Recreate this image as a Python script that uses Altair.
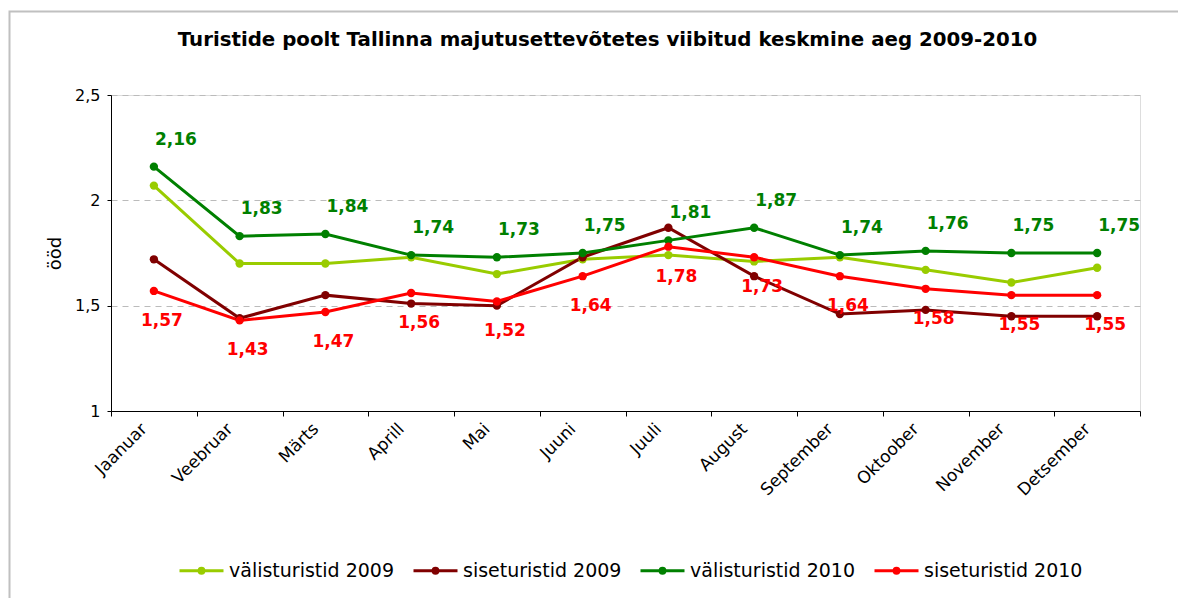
import altair as alt
import pandas as pd

months = ["Jaanuar", "Veebruar", "Märts", "Aprill", "Mai", "Juuni",
          "Juuli", "August", "September", "Oktoober", "November", "Detsember"]
series_names = ["välisturistid 2009", "siseturistid 2009",
                "välisturistid 2010", "siseturistid 2010"]
valis_2009 = [2.07, 1.70, 1.70, 1.73, 1.65, 1.72, 1.74, 1.71, 1.73, 1.67, 1.61, 1.68]
sise_2009 = [1.72, 1.44, 1.55, 1.51, 1.50, 1.73, 1.87, 1.64, 1.46, 1.48, 1.45, 1.45]
valis_2010 = [2.16, 1.83, 1.84, 1.74, 1.73, 1.75, 1.81, 1.87, 1.74, 1.76, 1.75, 1.75]
sise_2010 = [1.57, 1.43, 1.47, 1.56, 1.52, 1.64, 1.78, 1.73, 1.64, 1.58, 1.55, 1.55]
colors = ["#99CC00", "#800000", "#008000", "#FF0000"]
y_ticks = [1, 1.5, 2, 2.5]

rows = []
for name, vals in zip(series_names, [valis_2009, sise_2009, valis_2010, sise_2010]):
    for m, v in zip(months, vals):
        rows.append({"month": m, "series": name, "value": v})
df = pd.DataFrame(rows)

FONT = "DejaVu Sans"

x_enc = alt.X(
    "month:N", sort=months, bandPosition=0.5, title=None,
    scale=alt.Scale(type="band", domain=months, paddingInner=0, paddingOuter=0),
    axis=alt.Axis(labelAngle=315, labelAlign="right", labelBaseline="middle",
                  labelPadding=10, labelOffset=-10, tickBand="extent", tickSize=5,
                  labelFont=FONT, labelFontSize=17, labelColor="black",
                  domainColor="black", tickColor="black", grid=False),
)
y_enc = alt.Y(
    "value:Q", title="ööd",
    scale=alt.Scale(domain=[1, 2.5], nice=False, zero=False),
    axis=alt.Axis(values=y_ticks,
                  labelExpr="replace(format(datum.value, '~g'), '.', ',')",
                  labelFont=FONT, labelFontSize=16, labelColor="black",
                  labelPadding=7, tickSize=4, tickColor="black", domainColor="black",
                  grid=True, gridDash=[6, 5], gridColor="#BBBBBB", gridWidth=1,
                  titleFont=FONT, titleFontSize=18, titleFontWeight="normal",
                  titleColor="black", titlePadding=10),
)
legend_symbol = ("M-1,0L1,0"
                 "M0.11,0A0.11,0.11,0,1,1,-0.11,0A0.11,0.11,0,1,1,0.11,0Z"
                 "M0.05,0A0.05,0.05,0,1,1,-0.05,0A0.05,0.05,0,1,1,0.05,0Z")
color_enc = alt.Color(
    "series:N",
    scale=alt.Scale(domain=series_names, range=colors),
    legend=alt.Legend(
        title=None, orient="none", legendX=67, legendY=452, direction="horizontal",
        symbolType=legend_symbol, symbolSize=1936, symbolStrokeWidth=3,
        labelFont=FONT, labelFontSize=19, labelColor="black", labelOffset=4,
        labelLimit=400, columnPadding=12, symbolOpacity=1,
    ),
)

base = alt.Chart(df)

frame = alt.Chart(alt.Data(values=[{"a": 1}])).mark_rect(
    fill="transparent", stroke="#C0C0C0", strokeWidth=2
).encode(x=alt.value(-101.5), x2=alt.value(1090), y=alt.value(-83.5), y2=alt.value(530))

lines = base.mark_line(strokeWidth=3).encode(x=x_enc, y=y_enc, color=color_enc, detail="series:N")
points = base.mark_point(filled=True, size=70, opacity=1).encode(
    x=x_enc, y=y_enc,
    color=alt.Color("series:N", scale=alt.Scale(domain=series_names, range=colors), legend=None)
)

lab_expr = "replace(format(datum.value, '.2f'), '.', ',')"
labels_green = base.transform_filter(
    alt.datum.series == "välisturistid 2010"
).transform_calculate(lab=lab_expr).mark_text(
    dx=22, dy=-27, font=FONT, fontSize=17, fontWeight="bold", color="#008000"
).encode(x=x_enc, y=y_enc, text="lab:N")

labels_red = base.transform_filter(
    alt.datum.series == "siseturistid 2010"
).transform_calculate(lab=lab_expr).mark_text(
    dx=8, dy=30, font=FONT, fontSize=17, fontWeight="bold", color="#FF0000"
).encode(x=x_enc, y=y_enc, text="lab:N")

chart = alt.layer(frame, lines, points, labels_green, labels_red).properties(
    width=1029, height=316,
    autosize=alt.AutoSizeParams(type="none"),
    padding={"left": 103, "top": 87, "right": 38, "bottom": 187},
    title=alt.TitleParams(
        text="Turistide poolt Tallinna majutusettevõtetes viibitud keskmine aeg 2009-2010",
        font=FONT, fontSize=19.8, fontWeight="bold", color="black",
        anchor="middle", dx=-18, offset=0, dy=55, baseline="alphabetic", frame="group"),
).configure_view(stroke="#999999", strokeWidth=1.5).configure(background="white")

chart.save("out.html", embed_options={"renderer": "svg", "actions": False})
